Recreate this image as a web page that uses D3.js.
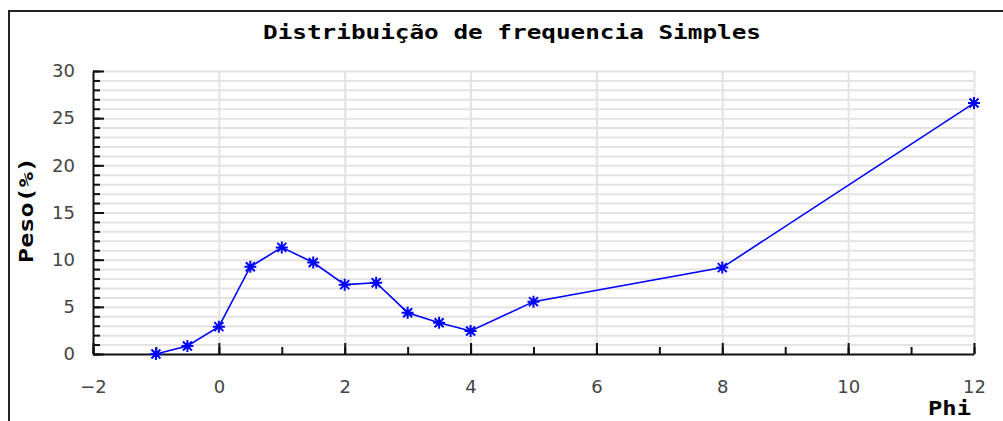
<!DOCTYPE html>
<html>
<head>
<meta charset="utf-8">
<script src="https://cdn.jsdelivr.net/npm/d3@7"></script>
<style>
  body { margin: 0; background: #fff; }
  svg { display: block; }
</style>
</head>
<body>
<div id="body"></div>
<script>
// data
var phi  = [-1, -0.5, 0, 0.5, 1, 1.5, 2, 2.5, 3, 3.5, 4, 5, 8, 12];
var peso = [0, 0.85, 2.9, 9.25, 11.3, 9.7, 7.35, 7.55, 4.38, 3.32, 2.44, 5.55, 9.16, 26.6];
var xTicks = [-2, 0, 2, 4, 6, 8, 10, 12];
var yTicks = [0, 5, 10, 15, 20, 25, 30];
var xMinor = d3.range(-2, 13, 1);
var yMinor = d3.range(0, 31, 1);
var title = "Distribuição de frequencia Simples";

var W = 1003, H = 421;
// plot box (note: "top" is reserved on window)
var pLeft = 93, pRight = 974, pTop = 71, pBottom = 354;

var svg = d3.select('#body').append('svg')
  .attr('width', W).attr('height', H);

var x = d3.scaleLinear().domain([-2, 12]).range([pLeft, pRight]);
var y = d3.scaleLinear().domain([0, 30]).range([pBottom, pTop]);

// frame (only top and left show)
svg.append('path')
  .attr('d', 'M9,' + H + 'V11H' + W)
  .attr('fill', 'none')
  .attr('stroke', '#222')
  .attr('stroke-width', 2);

// title
svg.append('text')
  .attr('x', 512).attr('y', 39)
  .attr('text-anchor', 'middle')
  .attr('textLength', 498)
  .attr('lengthAdjust', 'spacingAndGlyphs')
  .style('font-family', 'DejaVu Sans Mono')
  .style('font-weight', 'bold')
  .style('font-size', '19px')
  .text(title);

// horizontal grid every unit
svg.append('g')
  .attr('transform', 'translate(' + pLeft + ',0)')
  .call(d3.axisLeft(y).tickValues(yMinor.slice(1)).tickSize(-(pRight - pLeft)).tickFormat(''))
  .call(function(g){
    g.select('.domain').remove();
    g.selectAll('line').attr('stroke', '#e3e3e3').attr('stroke-width', 2);
  });

// vertical grid at major x ticks
svg.append('g')
  .attr('transform', 'translate(0,' + pBottom + ')')
  .call(d3.axisBottom(x).tickValues(xTicks.slice(1)).tickSize(-(pBottom - pTop)).tickFormat(''))
  .call(function(g){
    g.select('.domain').remove();
    g.selectAll('line').attr('stroke', '#e3e3e3').attr('stroke-width', 2);
  });

// minor ticks (inside)
svg.append('g')
  .attr('transform', 'translate(' + pLeft + ',0)')
  .call(d3.axisLeft(y).tickValues(yMinor).tickSize(-7).tickFormat(''))
  .call(function(g){
    g.select('.domain').remove();
    g.selectAll('line').attr('stroke', '#111').attr('stroke-width', 2);
  });
svg.append('g')
  .attr('transform', 'translate(0,' + pBottom + ')')
  .call(d3.axisBottom(x).tickValues(xMinor).tickSize(-7).tickFormat(''))
  .call(function(g){
    g.select('.domain').remove();
    g.selectAll('line').attr('stroke', '#111').attr('stroke-width', 2);
  });

// y axis
svg.append('g')
  .attr('transform', 'translate(' + pLeft + ',0)')
  .call(d3.axisLeft(y).tickValues(yTicks).tickSizeInner(-11).tickSizeOuter(0).tickPadding(18))
  .call(function(g){
    g.select('.domain').attr('stroke', '#111').attr('stroke-width', 2);
    g.selectAll('line').attr('stroke', '#111').attr('stroke-width', 2);
    g.selectAll('text').attr('fill', '#444')
      .style('font-family', 'DejaVu Sans').style('font-size', '18px');
  });

// x axis
svg.append('g')
  .attr('transform', 'translate(0,' + pBottom + ')')
  .call(d3.axisBottom(x).tickValues(xTicks).tickSizeInner(-11).tickSizeOuter(0).tickPadding(26))
  .call(function(g){
    g.select('.domain').attr('stroke', '#111').attr('stroke-width', 2);
    g.selectAll('line').attr('stroke', '#111').attr('stroke-width', 2);
    g.selectAll('text').attr('fill', '#444')
      .style('font-family', 'DejaVu Sans').style('font-size', '18px')
      .text(function(d){ return d < 0 ? '\u2212' + (-d) : d; });
  });

// axis titles
svg.append('text')
  .attr('transform', 'translate(33,210) rotate(-90)')
  .attr('text-anchor', 'middle')
  .attr('textLength', 106)
  .attr('lengthAdjust', 'spacingAndGlyphs')
  .style('font-family', 'DejaVu Sans Mono')
  .style('font-weight', 'bold')
  .style('font-size', '19px')
  .text('Peso(%)');

svg.append('text')
  .attr('x', 971).attr('y', 415)
  .attr('text-anchor', 'end')
  .attr('textLength', 43)
  .attr('lengthAdjust', 'spacingAndGlyphs')
  .style('font-family', 'DejaVu Sans Mono')
  .style('font-weight', 'bold')
  .style('font-size', '19px')
  .text('Phi');

// series line
var pts = phi.map(function(d, i){ return [d, peso[i]]; });
svg.append('path')
  .datum(pts)
  .attr('fill', 'none')
  .attr('stroke', '#0000ff')
  .attr('stroke-width', 1.6)
  .attr('d', d3.line().x(function(d){ return x(d[0]); }).y(function(d){ return y(d[1]); }));

// asterisk markers
var star = {
  draw: function(ctx, size) {
    var r = Math.sqrt(size) / 2, q = r * 0.75;
    ctx.moveTo(0, -r); ctx.lineTo(0, r);
    ctx.moveTo(-r, 0); ctx.lineTo(r, 0);
    ctx.moveTo(-q, -q); ctx.lineTo(q, q);
    ctx.moveTo(-q, q); ctx.lineTo(q, -q);
  }
};
svg.selectAll('.pt').data(pts).enter().append('path')
  .attr('class', 'pt')
  .attr('transform', function(d){ return 'translate(' + x(d[0]) + ',' + y(d[1]) + ')'; })
  .attr('d', d3.symbol().type(star).size(144))
  .attr('fill', 'none')
  .attr('stroke', '#0000ff')
  .attr('stroke-width', 2);
</script>
</body>
</html>
